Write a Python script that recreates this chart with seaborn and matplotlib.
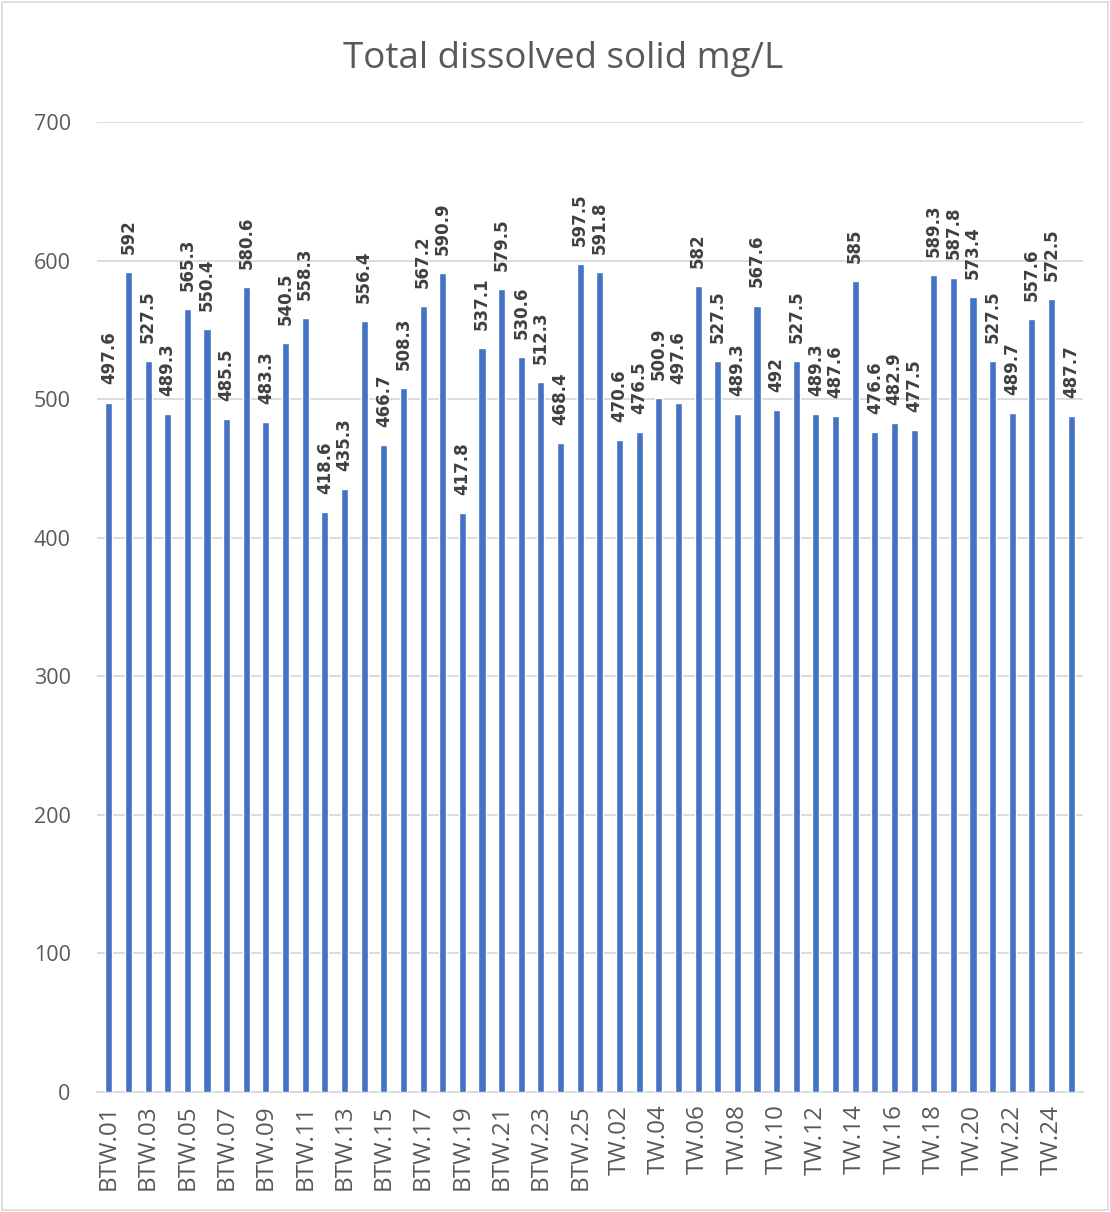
import matplotlib
matplotlib.use("Agg")
import matplotlib.pyplot as plt
import seaborn as sns
import pandas as pd
from matplotlib.patches import Rectangle

btw_sites = [f"BTW.{i:02d}" for i in range(1, 26)]
tw_sites = [f"TW.{i:02d}" for i in range(1, 26)]
sites = btw_sites + tw_sites

btw_values = [497.6, 592, 527.5, 489.3, 565.3, 550.4, 485.5, 580.6, 483.3, 540.5,
              558.3, 418.6, 435.3, 556.4, 466.7, 508.3, 567.2, 590.9, 417.8, 537.1,
              579.5, 530.6, 512.3, 468.4, 597.5]
tw_values = [591.8, 470.6, 476.5, 500.9, 497.6, 582, 527.5, 489.3, 567.6, 492,
             527.5, 489.3, 487.6, 585, 476.6, 482.9, 477.5, 589.3, 587.8, 573.4,
             527.5, 489.7, 557.6, 572.5, 487.7]
values = btw_values + tw_values

y_ticks = [0, 100, 200, 300, 400, 500, 600, 700]
title = "Total dissolved solid mg/L"

df = pd.DataFrame({"site": sites, "tds": values})

sns.set_theme(style="white")
plt.rcParams["font.family"] = ["Open Sans", "DejaVu Sans"]

text_grey = "#595959"
fig = plt.figure(figsize=(11.1, 12.12), dpi=100)
ax = fig.add_axes([0.0874, 0.099, 0.8883, 0.8003])

sns.barplot(data=df, x="site", y="tds", color="#4472C4", saturation=1,
            width=0.36, ax=ax, zorder=3)

ax.set_ylim(0, 700)
ax.set_xlim(-0.6, len(sites) - 0.4)
ax.set_yticks(y_ticks)
ax.set_yticklabels([str(t) for t in y_ticks], fontsize=15.5, color=text_grey)
ax.yaxis.grid(True, color="#d9d9d9", linewidth=1.3, zorder=0)
ax.set_axisbelow(True)

shown = list(range(0, len(sites), 2))
ax.set_xticks(shown)
ax.set_xticklabels([sites[i] for i in shown], rotation=90, fontsize=17.5,
                   color=text_grey)
ax.tick_params(axis="y", length=0, pad=19)
ax.tick_params(axis="x", length=0, pad=9)
ax.set_xlabel("")
ax.set_ylabel("")
for s in ["top", "right", "left"]:
    ax.spines[s].set_visible(False)
ax.spines["bottom"].set_color("#d9d9d9")
ax.spines["bottom"].set_linewidth(1.3)

for i, v in enumerate(values):
    ax.annotate(f"{v:g}", xy=(i, v), xytext=(0, 13), textcoords="offset points",
                ha="center", va="bottom", rotation=90, fontsize=12,
                fontweight="bold", color="#404040", family="DejaVu Sans")

fig.text(0.507, 0.951, title, ha="center", va="center", fontsize=26.5,
         color=text_grey)

fig.patches.append(Rectangle((0.002, 0.002), 0.996, 0.996, transform=fig.transFigure,
                             fill=False, edgecolor="#d9d9d9", linewidth=1.2))

fig.savefig("out.png", dpi=100)
